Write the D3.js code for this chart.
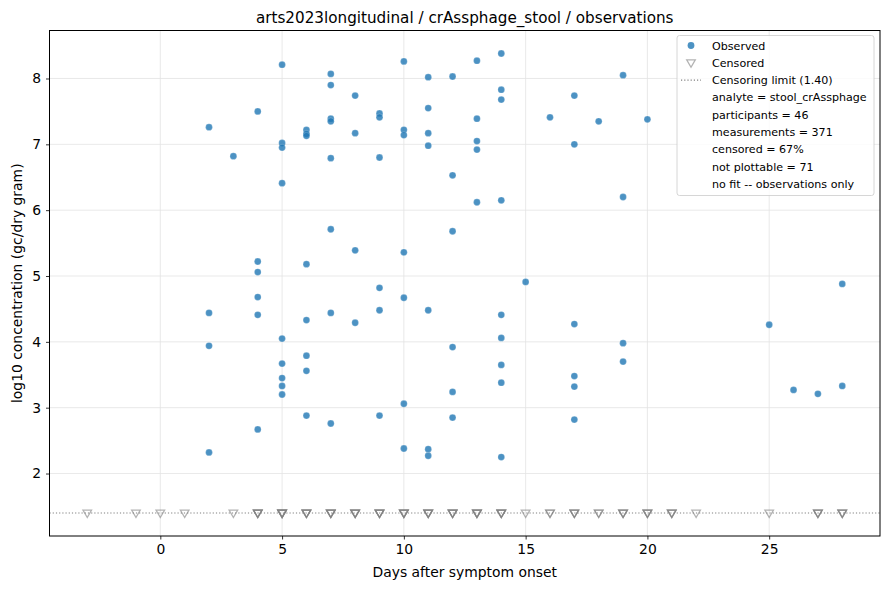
<!DOCTYPE html>
<html>
<head>
<meta charset="utf-8">
<script src="https://cdn.jsdelivr.net/npm/d3@7"></script>
<style>
  html, body { margin: 0; padding: 0; background: #fff; }
  svg { display: block; font-family: "DejaVu Sans", sans-serif; }
</style>
</head>
<body>
<svg id="chart" width="890" height="590"></svg>
<script>
// ---- data ----
const obsDays = [
  2,2,2,2,
  3,
  4,4,4,4,4,4,
  5,5,5,5,5,5,5,5,5,
  6,6,6,6,6,6,6,6,
  7,7,7,7,7,7,7,7,
  8,8,8,8,
  9,9,9,9,9,9,
  10,10,10,10,10,10,10,
  11,11,11,11,11,11,11,
  12,12,12,12,12,12,
  13,13,13,13,13,
  14,14,14,14,14,14,14,14,14,
  15,
  16,
  17,17,17,17,17,17,
  18,
  19,19,19,19,
  20,
  25,
  26,
  27,
  28,28
];
const obsValues = [
  7.26,4.44,3.94,2.32,
  6.82,
  7.50,5.22,5.06,4.68,4.41,2.67,
  8.21,7.02,6.95,6.41,4.05,3.67,3.45,3.33,3.20,
  7.22,7.16,7.13,5.18,4.33,3.79,3.56,2.88,
  8.07,7.90,7.39,7.35,6.79,5.71,4.44,2.76,
  7.74,7.17,5.39,4.29,
  7.47,7.41,6.80,4.82,4.48,2.88,
  8.26,7.22,7.14,5.36,4.67,3.06,2.38,
  8.02,7.55,7.17,6.98,4.48,2.37,2.27,
  8.03,6.53,5.68,3.92,3.24,2.85,
  8.27,7.39,7.05,6.92,6.12,
  8.38,7.83,7.68,6.15,4.41,4.06,3.65,3.38,2.25,
  4.91,
  7.41,
  7.74,7.00,4.27,3.48,3.32,2.82,
  7.35,
  8.05,6.20,3.98,3.70,
  7.38,
  4.26,
  3.27,
  3.21,
  4.88,3.33
];
// censored observations (plotted at the censoring limit); repeated days overlap
const censDays = [
  -3,-1,0,1,3,
  4,4,4,4,5,5,5,5,5,6,6,6,6,7,7,7,7,8,8,8,8,9,9,9,9,10,10,10,10,
  11,11,11,11,12,12,12,12,13,13,13,13,14,14,14,14,
  15,16,16,17,17,17,18,18,19,19,19,20,20,20,21,21,21,22,25,27,27,27,28,28,28
];
const censLimit = 1.40;
const xTicks = [0,5,10,15,20,25];
const yTicks = [2,3,4,5,6,7,8];
const legendLabels = [
  "Observed",
  "Censored",
  "Censoring limit (1.40)",
  "analyte = stool_crAssphage",
  "participants = 46",
  "measurements = 371",
  "censored = 67%",
  "not plottable = 71",
  "no fit -- observations only"
];
const titleText = "arts2023longitudinal / crAssphage_stool / observations";
const xLabel = "Days after symptom onset";
const yLabel = "log10 concentration (gc/dry gram)";

// ---- layout ----
const svg = d3.select("#chart");
const L = 49.5, R = 880, T = 30.5, B = 536;
const x = d3.scaleLinear().domain([-4.55, 29.55]).range([L, R]);
const y = d3.scaleLinear().domain([1.051, 8.729]).range([B, T]);

// grid
const grid = svg.append("g");
grid.selectAll("line.gx").data(xTicks).enter().append("line")
  .attr("x1", d => x(d)).attr("x2", d => x(d)).attr("y1", T).attr("y2", B)
  .attr("stroke", "#e3e3e3").attr("stroke-width", 0.8);
grid.selectAll("line.gy").data(yTicks).enter().append("line")
  .attr("x1", L).attr("x2", R).attr("y1", d => y(d)).attr("y2", d => y(d))
  .attr("stroke", "#e3e3e3").attr("stroke-width", 0.8);

// censoring limit line
svg.append("line")
  .attr("x1", L).attr("x2", R).attr("y1", y(censLimit)).attr("y2", y(censLimit))
  .attr("stroke", "#808080").attr("stroke-width", 1.2).attr("stroke-dasharray", "1.2,2");

// observed points
svg.append("g").selectAll("circle").data(obsDays.map((d, i) => [d, obsValues[i]]))
  .enter().append("circle")
  .attr("cx", d => x(d[0])).attr("cy", d => y(d[1])).attr("r", 3.4)
  .attr("fill", "#1f77b4").attr("fill-opacity", 0.8)
  .attr("stroke", "#ffffff").attr("stroke-opacity", 0.5).attr("stroke-width", 0.4);

// censored triangles
const tri = d3.symbol().type(d3.symbolTriangle).size(32);
svg.append("g").selectAll("path").data(censDays).enter().append("path")
  .attr("d", tri)
  .attr("transform", d => `translate(${x(d)},${y(censLimit) - 0.5}) rotate(180)`)
  .attr("fill", "none").attr("stroke", "#808080").attr("stroke-opacity", 0.6)
  .attr("stroke-width", 1.3);

// axes frame
svg.append("rect").attr("x", L).attr("y", T).attr("width", R - L).attr("height", B - T)
  .attr("fill", "none").attr("stroke", "#000").attr("stroke-width", 1);

const xAxis = svg.append("g").attr("transform", `translate(0,${B})`)
  .call(d3.axisBottom(x).tickValues(xTicks).tickSize(3.5).tickPadding(4.5).tickFormat(d3.format("d")));
const yAxis = svg.append("g").attr("transform", `translate(${L},0)`)
  .call(d3.axisLeft(y).tickValues(yTicks).tickSize(3.5).tickPadding(4.9).tickFormat(d3.format("d")));
[xAxis, yAxis].forEach(a => {
  a.select(".domain").remove();
  a.selectAll("text").attr("font-size", 13.9).attr("font-family", "DejaVu Sans, sans-serif").attr("fill", "#000");
  a.selectAll("line").attr("stroke", "#000").attr("stroke-width", 0.8);
});

// labels
svg.append("text").attr("x", (L + R) / 2).attr("y", 22.5).attr("text-anchor", "middle")
  .attr("font-size", 15.2).text(titleText);
svg.append("text").attr("x", (L + R) / 2).attr("y", 577).attr("text-anchor", "middle")
  .attr("font-size", 13.9).text(xLabel);
svg.append("text").attr("transform", `translate(21.5,${(T + B) / 2}) rotate(-90)`)
  .attr("text-anchor", "middle").attr("font-size", 13.9).text(yLabel);

// legend
const lg = svg.append("g");
lg.append("rect").attr("x", 677).attr("y", 35.5).attr("width", 197).attr("height", 160)
  .attr("rx", 2.5).attr("fill", "#fff").attr("fill-opacity", 0.8)
  .attr("stroke", "#cccccc").attr("stroke-width", 0.8);
const rowY = i => 45.5 + i * 17.3;
lg.append("circle").attr("cx", 691).attr("cy", rowY(0)).attr("r", 3.4)
  .attr("fill", "#1f77b4").attr("fill-opacity", 0.8);
lg.append("path").attr("d", tri)
  .attr("transform", `translate(691,${rowY(1) - 0.5}) rotate(180)`)
  .attr("fill", "none").attr("stroke", "#808080").attr("stroke-opacity", 0.6).attr("stroke-width", 1.3);
lg.append("line").attr("x1", 681).attr("x2", 701).attr("y1", rowY(2)).attr("y2", rowY(2))
  .attr("stroke", "#808080").attr("stroke-width", 1.2).attr("stroke-dasharray", "1.2,2");
lg.selectAll("text").data(legendLabels).enter().append("text")
  .attr("x", 712).attr("y", (d, i) => rowY(i) + 4)
  .attr("font-size", 11.1).text(d => d);
</script>
</body>
</html>
